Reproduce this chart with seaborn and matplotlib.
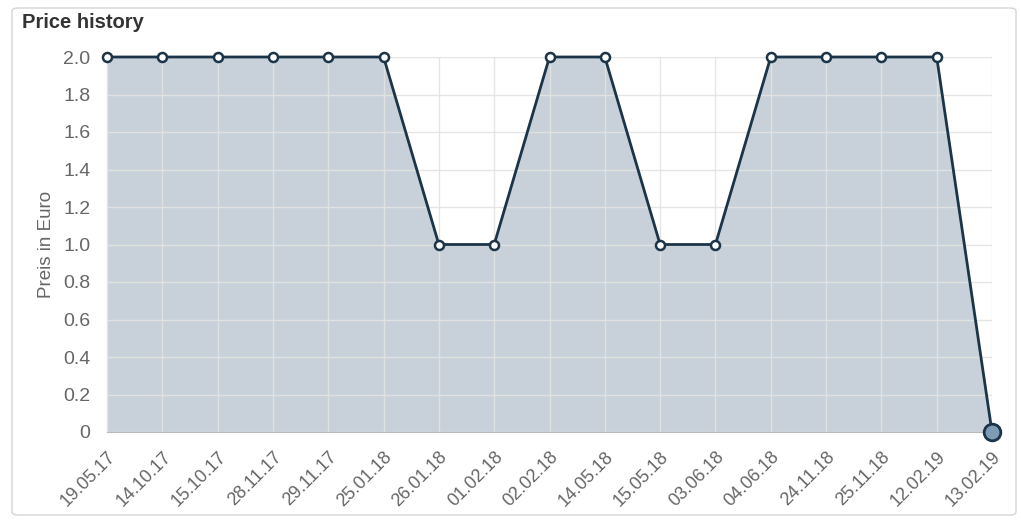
import matplotlib
matplotlib.use("Agg")
import matplotlib.pyplot as plt
from matplotlib.patches import FancyBboxPatch
import seaborn as sns
import pandas as pd
import numpy as np

dates = ["19.05.17", "14.10.17", "15.10.17", "28.11.17", "29.11.17", "25.01.18",
         "26.01.18", "01.02.18", "02.02.18", "14.05.18", "15.05.18", "03.06.18",
         "04.06.18", "24.11.18", "25.11.18", "12.02.19", "13.02.19"]
prices = [2.0, 2.0, 2.0, 2.0, 2.0, 2.0, 1.0, 1.0, 2.0, 2.0, 1.0, 1.0,
          2.0, 2.0, 2.0, 2.0, 0.0]
yticks = [0, 0.2, 0.4, 0.6, 0.8, 1.0, 1.2, 1.4, 1.6, 1.8, 2.0]
ytick_labels = ["0", "0.2", "0.4", "0.6", "0.8", "1.0", "1.2", "1.4", "1.6", "1.8", "2.0"]

sns.set_style("white")
plt.rcParams['font.family'] = ['Liberation Sans', 'DejaVu Sans']

df = pd.DataFrame({"idx": np.arange(len(dates)), "price": prices})

W, H = 1021, 523
fig = plt.figure(figsize=(W / 100, H / 100), dpi=100)

# card background
card = FancyBboxPatch((12 / W, 1 - 515 / H), (1004) / W, (507) / H,
                      boxstyle="round,pad=0,rounding_size=0.006",
                      transform=fig.transFigure, facecolor="white",
                      edgecolor="#d4d4d4", linewidth=1.0, zorder=-5)
fig.patches.append(card)

ax = fig.add_axes([107 / W, 1 - 432 / H, (992 - 107) / W, (432 - 57) / H])
ax.set_zorder(2)
ax.set_facecolor("none")

line_col = "#1b3447"
ax.fill_between(df["idx"], df["price"], 0, color="#c8d1d9", zorder=1, linewidth=0)
sns.lineplot(data=df, x="idx", y="price", ax=ax, color=line_col, linewidth=2.0,
             zorder=3, marker="o", markersize=6.5, markerfacecolor="white",
             markeredgecolor=line_col, markeredgewidth=1.8, clip_on=False)
# highlighted last point
ax.plot(df["idx"].iloc[-1], df["price"].iloc[-1], "o", markersize=12,
        markerfacecolor="#7f9cb6", markeredgecolor=line_col, markeredgewidth=2.0,
        zorder=5, clip_on=False)

ax.set_xlim(0, len(dates) - 1)
ax.set_ylim(0, 2.0)
ax.set_xticks(df["idx"])
ax.set_xticklabels(dates, rotation=45, ha="right", rotation_mode="anchor",
                   fontsize=13, color="#666666")
ax.set_yticks(yticks)
ax.set_yticklabels(ytick_labels, fontsize=14, color="#666666")
ax.tick_params(axis="both", length=9, width=1, color="#e3e3e3", pad=3)
ax.grid(True, color="#e3e3e3", linewidth=1, zorder=0)
ax.set_axisbelow(False)
for gl in ax.get_xgridlines() + ax.get_ygridlines():
    gl.set_zorder(2)
    gl.set_alpha(0.9)
for s in ["top", "right"]:
    ax.spines[s].set_visible(False)
ax.spines["left"].set_color("#d9d9d9")
ax.spines["bottom"].set_color("#b8b8b8")
ax.set_xlabel("")
ax.set_ylabel("Preis in Euro", fontsize=13.5, color="#666666", labelpad=6)

fig.text(22 / W, 1 - 23 / H, "Price history", fontsize=14.5, fontweight="bold",
         color="#333333", va="center", ha="left")

fig.savefig("out.png", dpi=100)
